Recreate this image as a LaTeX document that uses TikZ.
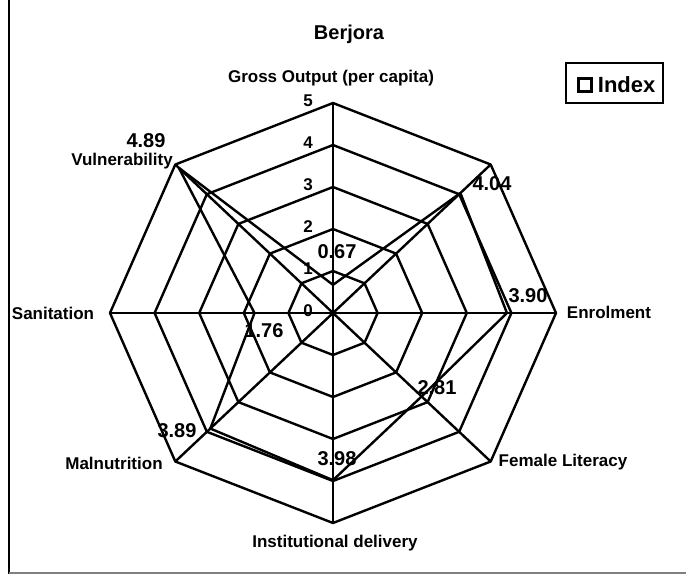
\documentclass[tikz,border=0pt]{standalone}
\usepackage{fontspec}
\setmainfont{Liberation Sans}
\usetikzlibrary{calc,positioning}

\begin{document}
\begin{tikzpicture}[x=1pt, y=-1pt,
			grid/.style={line width=2.4pt, line join=round},
			series/.style={line width=2.4pt, line join=round},
			axislabel/.style={font=\bfseries\fontsize{17}{17}\selectfont, inner sep=0pt},
			value/.style={font=\bfseries\fontsize{20}{20}\selectfont, inner sep=0pt},
			tick/.style={font=\bfseries\fontsize{17}{17}\selectfont, inner sep=0pt}
			]
			\useasboundingbox (0,0) rectangle (686,574);
			\coordinate (c) at (333,313);
			
			% ---------------- FRAME ----------------
			\draw[line width=2.4pt] (9,0) -- (9,574);
			\draw[gray, line width=1.5pt] (9,573) -- (686,573);
			
			% ---------------- GRID ----------------
			\foreach \r in {1,...,5}
				\draw[grid, shift={(c)}] (0:{\r*44.6pt} and {\r*42pt})
					\foreach \a in {45,90,...,315}{ -- (\a:{\r*44.6pt} and {\r*42pt}) } -- cycle;
			\foreach \a in {0,45,...,315}
				\draw[grid] (c) -- ++(\a:{5*44.6pt} and {5*42pt});
			
			\foreach \r in {0,...,5}
				\node[tick] (t\r) at (308,{311-42*\r}) {\r};
			
			% ---------------- SERIES ----------------
			\foreach \a/\v [count=\i] in {90/0.67,45/4.04,0/3.90,-45/2.81,-90/3.98,-135/3.89,180/1.76,135/4.89}
				\coordinate (d\i) at ($(c)+(\a:{\v*44.6pt} and {\v*42pt})$);
			\draw[series] (d1) -- (d2) -- (d3) -- (d4) -- (d5) -- (d6) -- (d7) -- (d8) -- cycle;
			
			\node[value] (v1) at (337,252) {0.67};
			\node[value] (v2) at (492,184) {4.04};
			\node[value] (v3) at (528,296) {3.90};
			\node[value] (v4) at (437,388) {2.81};
			\node[value] (v5) at (337,459) {3.98};
			\node[value] (v6) at (177,431) {3.89};
			\node[value] (v7) at (264,331) {1.76};
			\node[value] (v8) at (146,141) {4.89};
			
			% ---------------- LABELS ----------------
			\node[font=\bfseries\fontsize{20}{20}\selectfont] (title) at (349,34) {Berjora};
			\node[axislabel] (gross) at (331,78) {Gross Output (per capita)};
			\node[axislabel] (enrol) at (609,312) {Enrolment};
			\node[axislabel] (female) at (563,462) {Female Literacy};
			\node[axislabel] (inst) at (335,543) {Institutional delivery};
			\node[axislabel] (malnu) at (114,463) {Malnutrition};
			\node[axislabel] (sanit) at (53,313) {Sanitation};
			\node[axislabel] (vulner) at (122,161) {Vulnerability};
			
			% ---------------- LEGEND ----------------
			\draw[line width=2.4pt] (566,63) rectangle (663,103);
			\node[draw, line width=2.4pt, minimum size=13pt, inner sep=0pt] (key) at (585,85) {};
			\node[font=\bfseries\fontsize{22}{22}\selectfont, inner sep=0pt, right=5pt of key] (index) {Index};
			
		\end{tikzpicture}
\end{document}
